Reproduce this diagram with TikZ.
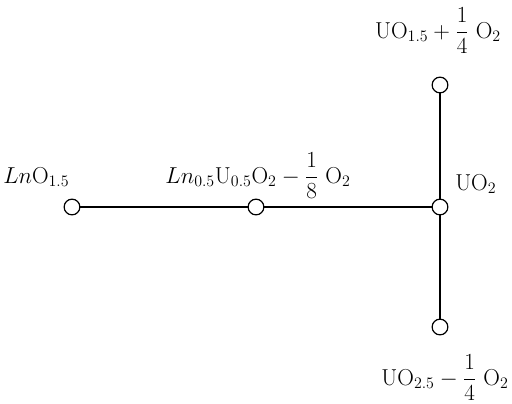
\documentclass[tikz,border=0pt]{standalone}
\usepackage{amsmath}
\usepackage{tikz}

\begin{document}
\begin{tikzpicture}[x=0.75pt,y=-0.75pt,
                      site/.style={circle,draw,fill=white,line width=0.9pt,minimum size=11.8pt,inner sep=0pt},
                      tag/.style={font=\fontsize{17}{20}\selectfont,inner sep=0pt}]
                      \useasboundingbox (0,0) rectangle (512,404);

                      \node[site] (lno)   at (72,207)  {};
                      \node[site] (mix)   at (256,207) {};
                      \node[site] (uo2)   at (440,207) {};
                      \node[site] (uotop) at (440,85)  {};
                      \node[site] (uobot) at (440,327) {};

                      \path[line width=0.9pt]
                      (lno)   edge (mix)
                      (mix)   edge (uo2)
                      (uotop) edge (uo2)
                      (uo2)   edge (uobot);

                      \node[tag,anchor=base west] (lnolab)   at (3,183)   {$Ln\mathrm{O}_{1.5}$};
                      \node[tag,anchor=base]      (mixlab)   at (258,183) {$Ln_{0.5}\mathrm{U}_{0.5}\mathrm{O}_2-\dfrac{1}{8}\ \mathrm{O}_2$};
                      \node[tag,anchor=base west] (uo2lab)   at (455,190) {$\mathrm{UO}_2$};
                      \node[tag,anchor=base]      (uotoplab) at (438,38)  {$\mathrm{UO}_{1.5}+\dfrac{1}{4}\ \mathrm{O}_2$};
                      \node[tag,anchor=base]      (uobotlab) at (445,385) {$\mathrm{UO}_{2.5}-\dfrac{1}{4}\ \mathrm{O}_2$};
                  \end{tikzpicture}
\end{document}
